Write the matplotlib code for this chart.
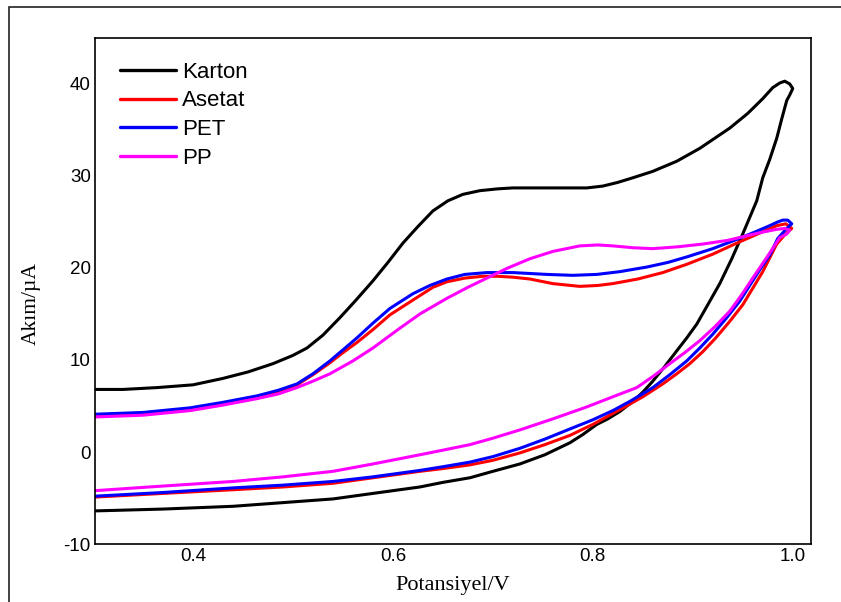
import numpy as np
import matplotlib
matplotlib.use("Agg")
import matplotlib.pyplot as plt
from matplotlib.patches import Rectangle

plt.rcParams["axes.unicode_minus"] = False

# Döngüsel voltametri: ileri (anodik) tarama, ardından geri (katodik) tarama
karton_v = [0.300, 0.330, 0.364, 0.400, 0.430, 0.455, 0.480, 0.500, 0.514, 0.530,
            0.547, 0.563, 0.580, 0.595, 0.610, 0.625, 0.640, 0.655, 0.670, 0.687,
            0.705, 0.720, 0.760, 0.794, 0.810, 0.825, 0.840, 0.860, 0.884, 0.907,
            0.922, 0.937, 0.955, 0.970, 0.980, 0.987, 0.992, 0.997, 1.000,
            0.997, 0.994, 0.989, 0.984, 0.977, 0.970, 0.964, 0.957, 0.950, 0.939,
            0.927, 0.915, 0.904, 0.894, 0.884, 0.872, 0.860, 0.850, 0.840, 0.827,
            0.815, 0.804, 0.790, 0.777, 0.752, 0.727, 0.700, 0.677, 0.650, 0.627,
            0.580, 0.540, 0.490, 0.440, 0.370, 0.302]
karton_i = [6.8, 6.8, 7.0, 7.3, 8.0, 8.7, 9.6, 10.5, 11.3, 12.7,
            14.6, 16.5, 18.6, 20.6, 22.7, 24.5, 26.2, 27.3, 28.0, 28.4,
            28.6, 28.7, 28.7, 28.7, 28.9, 29.3, 29.8, 30.5, 31.6, 33.0,
            34.1, 35.2, 36.8, 38.4, 39.6, 40.1, 40.3, 40.0, 39.5,
            38.8, 38.2, 36.2, 34.1, 31.8, 29.8, 27.3, 25.5, 23.7, 21.0,
            18.3, 16.0, 13.9, 12.4, 11.0, 9.3, 7.7, 6.5, 5.5, 4.4,
            3.6, 3.0, 1.9, 1.0, -0.3, -1.3, -2.1, -2.8, -3.3, -3.8,
            -4.5, -5.1, -5.5, -5.9, -6.2, -6.4]

asetat_v = [0.300, 0.350, 0.397, 0.430, 0.464, 0.485, 0.504, 0.520, 0.537, 0.550,
            0.564, 0.580, 0.597, 0.627, 0.640, 0.654, 0.672, 0.690, 0.704, 0.720,
            0.737, 0.760, 0.787, 0.805, 0.820, 0.845, 0.870, 0.894, 0.920, 0.944,
            0.965, 0.984, 0.993, 0.999,
            0.992, 0.984, 0.977, 0.970, 0.960, 0.950, 0.937, 0.923, 0.910, 0.897,
            0.884, 0.870, 0.850, 0.827, 0.800, 0.777, 0.752, 0.727, 0.700, 0.677,
            0.650, 0.627, 0.580, 0.540, 0.490, 0.440, 0.370, 0.302]
asetat_i = [4.0, 4.2, 4.7, 5.3, 6.0, 6.6, 7.3, 8.4, 9.7, 10.8,
            11.9, 13.3, 14.9, 17.0, 17.9, 18.5, 18.9, 19.1, 19.1, 19.0,
            18.8, 18.3, 18.0, 18.1, 18.3, 18.8, 19.5, 20.4, 21.5, 22.7,
            23.7, 24.6, 24.8, 24.3,
            23.6, 22.6, 21.1, 19.6, 17.8, 16.0, 14.2, 12.4, 10.9, 9.6,
            8.5, 7.4, 6.0, 4.6, 3.0, 1.8, 0.8, -0.1, -0.9, -1.4,
            -1.8, -2.1, -2.8, -3.4, -3.8, -4.1, -4.5, -4.9]

pet_v = [0.300, 0.350, 0.397, 0.430, 0.464, 0.485, 0.504, 0.520, 0.537, 0.550,
         0.564, 0.580, 0.597, 0.620, 0.637, 0.654, 0.672, 0.694, 0.720, 0.754,
         0.780, 0.804, 0.827, 0.854, 0.875, 0.894, 0.920, 0.944, 0.962, 0.977,
         0.985, 0.990, 0.995, 0.999,
         0.994, 0.985, 0.977, 0.967, 0.957, 0.947, 0.934, 0.920, 0.907, 0.894,
         0.877, 0.860, 0.848, 0.837, 0.820, 0.800, 0.777, 0.752, 0.727, 0.700,
         0.677, 0.650, 0.627, 0.580, 0.540, 0.490, 0.440, 0.370, 0.302]
pet_i = [4.1, 4.3, 4.8, 5.4, 6.1, 6.7, 7.4, 8.5, 9.9, 11.1,
         12.4, 14.0, 15.6, 17.2, 18.1, 18.8, 19.3, 19.5, 19.5, 19.3,
         19.2, 19.3, 19.6, 20.1, 20.6, 21.2, 22.1, 23.1, 23.9, 24.6,
         25.0, 25.2, 25.2, 24.8,
         24.3, 23.2, 21.4, 19.8, 18.1, 16.4, 14.6, 12.8, 11.3, 9.9,
         8.4, 7.0, 6.2, 5.5, 4.5, 3.5, 2.5, 1.4, 0.4, -0.5,
         -1.1, -1.6, -2.0, -2.7, -3.2, -3.6, -3.9, -4.4, -4.8]

pp_v = [0.300, 0.350, 0.397, 0.430, 0.464, 0.485, 0.504, 0.520, 0.537, 0.560,
        0.580, 0.605, 0.627, 0.654, 0.675, 0.694, 0.715, 0.737, 0.760, 0.787,
        0.805, 0.820, 0.840, 0.860, 0.885, 0.910, 0.935, 0.954, 0.970, 0.984,
        0.992, 0.997,
        0.994, 0.987, 0.975, 0.960, 0.949, 0.937, 0.922, 0.907, 0.892, 0.877,
        0.860, 0.844, 0.820, 0.794, 0.760, 0.727, 0.700, 0.677, 0.650, 0.627,
        0.580, 0.540, 0.490, 0.440, 0.370, 0.302]
pp_i = [3.8, 4.0, 4.5, 5.1, 5.8, 6.3, 7.0, 7.7, 8.5, 9.9,
        11.3, 13.3, 15.0, 16.7, 17.9, 18.9, 20.0, 21.0, 21.8, 22.4,
        22.5, 22.4, 22.2, 22.1, 22.3, 22.6, 23.0, 23.5, 23.9, 24.2,
        24.3, 24.1,
        23.7, 23.3, 21.3, 18.9, 17.1, 15.3, 13.6, 12.1, 10.8, 9.6,
        8.2, 7.0, 6.0, 4.9, 3.6, 2.4, 1.5, 0.8, 0.2, -0.3,
        -1.3, -2.1, -2.7, -3.2, -3.7, -4.2]

series = [("Karton", karton_v, karton_i, "black"),
          ("Asetat", asetat_v, asetat_i, "#ff0000"),
          ("PET", pet_v, pet_i, "#0000ff"),
          ("PP", pp_v, pp_i, "#ff00ff")]

fig = plt.figure(figsize=(8.41, 6.02), dpi=100)
ax = fig.add_axes([0.113, 0.0963, 0.851, 0.8407])

for name, v, i, col in series:
    ax.plot(v, i, color=col, lw=2.2, label=name,
            solid_joinstyle="round", solid_capstyle="round")

ax.set_xlim(0.302, 1.018)
ax.set_ylim(-10, 45)
ax.set_xticks([0.4, 0.6, 0.8, 1.0])
ax.set_yticks([-10, 0, 10, 20, 30, 40])
ax.set_xticklabels(["0.4", "0.6", "0.8", "1.0"])
ax.tick_params(length=0, labelsize=13.5, pad=3)
for lab in ax.get_xticklabels() + ax.get_yticklabels():
    lab.set_family("Liberation Sans")
for s in ax.spines.values():
    s.set_linewidth(1.2)

ax.set_xlabel("Potansiyel/V", family="Liberation Serif", fontsize=16, labelpad=8)
ax.set_ylabel("Akım/µA", family="Liberation Serif", fontsize=15.5)
ax.yaxis.set_label_coords(-0.076, 0.476)

leg = ax.legend(loc="upper left", bbox_to_anchor=(0.035, 0.953), frameon=False,
                borderpad=0, borderaxespad=0, handlelength=2.5, handletextpad=0.3,
                labelspacing=0.35, prop={"family": "Liberation Sans", "size": 16})
for h in leg.get_lines():
    h.set_linewidth(2.4)

# dış çerçeve
fig.patches.append(Rectangle((9 / 841, -0.1), 1.2, 0.988 + 0.1,
                             transform=fig.transFigure, fill=False,
                             edgecolor="#222222", lw=1.2, clip_on=False))

fig.savefig("out.png", dpi=100)
